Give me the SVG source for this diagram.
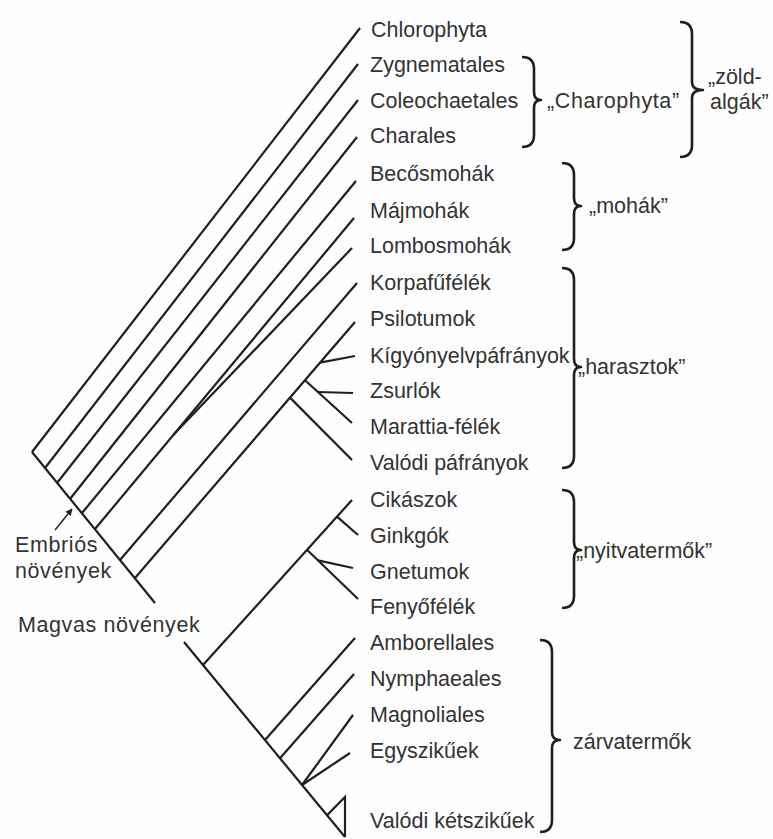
<svg xmlns="http://www.w3.org/2000/svg" width="773" height="839" viewBox="0 0 773 839">
<style>
.l{stroke:#1f1f1f;stroke-width:2.2;fill:none;stroke-linecap:butt}
.b{stroke:#1f1f1f;stroke-width:2.6;fill:none;stroke-linejoin:round}
text{font-family:"Liberation Sans",Arial,sans-serif;font-size:21.5px;fill:#333}
.w{letter-spacing:0.6px}
</style>
<defs>
<marker id="ah" viewBox="0 0 10 10" refX="9" refY="5" markerWidth="7" markerHeight="7" orient="auto" markerUnits="userSpaceOnUse">
<path d="M0,0 L10,5 L0,10 z" fill="#1f1f1f"/>
</marker>
</defs>
<rect width="773" height="839" fill="#fefefe"/>
<g id="connectors">
<line class="l" x1="32" y1="452" x2="155" y2="603"/>
<line class="l" x1="184" y1="642" x2="345" y2="837"/>
<line class="l" x1="32" y1="452" x2="360" y2="28"/>
<line class="l" x1="45" y1="468" x2="358" y2="64"/>
<line class="l" x1="57" y1="483" x2="358" y2="100"/>
<line class="l" x1="70" y1="499" x2="357" y2="137"/>
<line class="l" x1="82" y1="513" x2="356" y2="181"/>
<line class="l" x1="95" y1="529" x2="354" y2="218"/>
<line class="l" x1="173" y1="435.3" x2="352" y2="248"/>
<line class="l" x1="120" y1="560" x2="357" y2="283"/>
<line class="l" x1="135" y1="578" x2="355" y2="322"/>
<line class="l" x1="290" y1="397.6" x2="352" y2="460"/>
<line class="l" x1="305" y1="380.2" x2="352" y2="423"/>
<line class="l" x1="318" y1="392" x2="353" y2="393"/>
<line class="l" x1="320" y1="362.7" x2="355" y2="356"/>
<line class="l" x1="203" y1="665" x2="352" y2="500"/>
<line class="l" x1="337" y1="516.6" x2="358" y2="535"/>
<line class="l" x1="307" y1="549.8" x2="358" y2="599"/>
<line class="l" x1="318" y1="560.4" x2="353" y2="568"/>
<line class="l" x1="265" y1="740" x2="355" y2="638"/>
<line class="l" x1="280" y1="758.3" x2="354" y2="674"/>
<line class="l" x1="302" y1="785" x2="353" y2="715"/>
<line class="l" x1="302" y1="785" x2="350" y2="753"/>
<polyline class="l" points="327,815.2 345,797 345,837"/>
<line x1="55" y1="530" x2="72" y2="509" stroke="#1f1f1f" stroke-width="1.4" marker-end="url(#ah)"/>
</g>
<g id="taxa">
<g id="n-chlorophyta"><text x="371" y="37">Chlorophyta</text></g>
<g id="n-zygnematales"><text x="370" y="72">Zygnematales</text></g>
<g id="n-coleochaetales"><text x="370" y="108">Coleochaetales</text></g>
<g id="n-charales"><text x="370" y="143">Charales</text></g>
<g id="n-becosmohak"><text x="370" y="181">Becősmohák</text></g>
<g id="n-majmohak"><text x="370" y="218">Májmohák</text></g>
<g id="n-lombosmohak"><text x="370" y="253">Lombosmohák</text></g>
<g id="n-korpafufelek"><text x="370" y="290">Korpafűfélék</text></g>
<g id="n-psilotumok"><text x="370" y="326">Psilotumok</text></g>
<g id="n-kigyonyelv"><text x="370" y="363">Kígyónyelvpáfrányok</text></g>
<g id="n-zsurlok"><text x="370" y="398">Zsurlók</text></g>
<g id="n-marattia"><text x="370" y="434">Marattia-félék</text></g>
<g id="n-valodipafranyok"><text x="370" y="470">Valódi páfrányok</text></g>
<g id="n-cikaszok"><text x="370" y="507">Cikászok</text></g>
<g id="n-ginkgok"><text x="370" y="543">Ginkgók</text></g>
<g id="n-gnetumok"><text x="370" y="579">Gnetumok</text></g>
<g id="n-fenyofelek"><text x="370" y="614">Fenyőfélék</text></g>
<g id="n-amborellales"><text x="370" y="650">Amborellales</text></g>
<g id="n-nymphaeales"><text x="370" y="686">Nymphaeales</text></g>
<g id="n-magnoliales"><text x="370" y="722">Magnoliales</text></g>
<g id="n-egyszikuek"><text x="370" y="758">Egyszikűek</text></g>
<g id="n-valodiketszikuek"><text x="370" y="828">Valódi kétszikűek</text></g>
</g>
<g id="clade-labels">
<g id="l-embrios"><text class="w" x="15" y="552">Embriós</text><text class="w" x="15" y="578">növények</text></g>
<g id="l-magvas"><text class="w" x="18" y="632">Magvas növények</text></g>
</g>
<g id="groups">
<g id="g-charophyta">
<path class="b" d="M522,57 Q534,57 534,69 L534,92 Q534,100 541,100 Q534,100 534,108 L534,135 Q534,147 522,147"/>
<text class="w" x="547" y="108">„Charophyta”</text>
</g>
<g id="g-zoldalgak">
<path class="b" d="M680,22 Q692,22 692,34 L692,82 Q692,90 703,90 Q692,90 692,98 L692,145 Q692,157 680,157"/>
<text x="708" y="84">„zöld-</text>
<text x="710" y="109">algák”</text>
</g>
<g id="g-mohak">
<path class="b" d="M562,163 Q574,163 574,175 L574,198 Q574,206 581,206 Q574,206 574,214 L574,238 Q574,250 562,250"/>
<text x="589" y="213">„mohák”</text>
</g>
<g id="g-harasztok">
<path class="b" d="M562,268 Q574,268 574,280 L574,359 Q574,367 581,367 Q574,367 574,375 L574,456 Q574,468 562,468"/>
<text x="578" y="374">„harasztok”</text>
</g>
<g id="g-nyitvatermok">
<path class="b" d="M562,490 Q574,490 574,502 L574,542 Q574,550 581,550 Q574,550 574,558 L574,596 Q574,608 562,608"/>
<text x="576" y="558">„nyitvatermők”</text>
</g>
<g id="g-zarvatermok">
<path class="b" d="M540,640 Q552,640 552,652 L552,732 Q552,740 560,740 Q552,740 552,748 L552,820 Q552,832 540,832"/>
<text x="573" y="749">zárvatermők</text>
</g>
</g>
</svg>
